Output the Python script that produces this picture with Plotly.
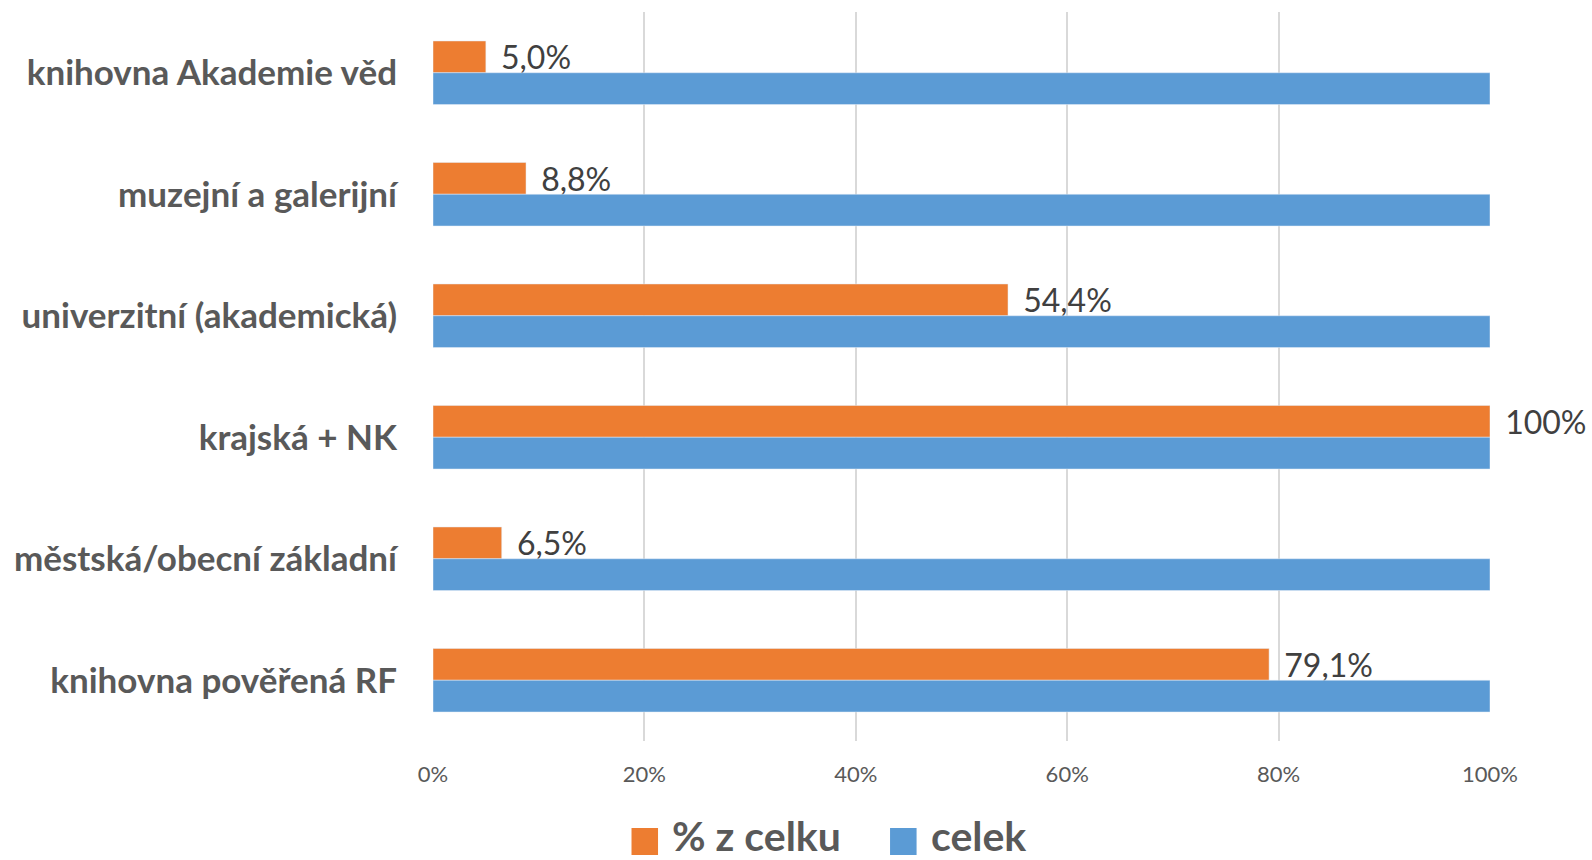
import plotly.graph_objects as go

# Typy knihoven (shora dolů)
kategorie = [
    "knihovna Akademie věd",
    "muzejní a galerijní",
    "univerzitní (akademická)",
    "krajská + NK",
    "městská/obecní základní",
    "knihovna pověřená RF",
]
podil = [5.0, 8.8, 54.4, 100.0, 6.5, 79.1]
celek = [100, 100, 100, 100, 100, 100]
popisky = ["5,0%", "8,8%", "54,4%", "100%", "6,5%", "79,1%"]

tick_hodnoty = [0, 20, 40, 60, 80, 100]
tick_texty = ["0%", "20%", "40%", "60%", "80%", "100%"]

ORANZOVA = "#ED7D31"
MODRA = "#5B9BD5"
SEDA = "#595959"

fig = go.Figure()
fig.add_trace(go.Bar(
    y=kategorie, x=podil, name="% z celku", orientation="h",
    marker=dict(color=ORANZOVA),
    text=["\u00a0\u2009" + t for t in popisky], textposition="outside",
    cliponaxis=False, constraintext="none",
    textfont=dict(size=32, color="#404040", family="Lato"),
))
fig.add_trace(go.Bar(
    y=kategorie, x=celek, name="celek", orientation="h",
    marker=dict(color=MODRA),
))

# legenda dole (velké čtverečky jako v Excelu)
legenda = [("% z celku", ORANZOVA, 0.1878, 0.2242), ("celek", MODRA, 0.4324, 0.4693)]
for nazev, barva, x0, xt in legenda:
    fig.add_shape(type="rect", xref="paper", yref="paper",
                  x0=x0, x1=x0 + 0.0251, y0=-0.1564, y1=-0.1193,
                  fillcolor=barva, line=dict(width=0))
    fig.add_annotation(xref="paper", yref="paper", x=xt, y=-0.1290,
                       xanchor="left", yanchor="middle", showarrow=False,
                       text="<b>" + nazev + "</b>",
                       font=dict(size=41, color=SEDA, family="Lato"))

fig.update_layout(
    width=1592, height=860,
    barmode="group", bargap=0.477, bargroupgap=0,
    plot_bgcolor="white", paper_bgcolor="white",
    margin=dict(l=433, r=102, t=12, b=119, autoexpand=False),
    font=dict(family="Lato", color=SEDA),
    showlegend=False,
)
fig.update_xaxes(
    range=[0, 100], tickvals=tick_hodnoty, ticktext=tick_texty,
    showgrid=True, gridcolor="#D9D9D9", gridwidth=2,
    zeroline=False, showline=False, ticks="",
    tickfont=dict(size=22, color=SEDA), ticklabelstandoff=18,
)
fig.update_yaxes(
    autorange="reversed", showgrid=False, showline=False, ticks="",
    tickfont=dict(size=35, color=SEDA, family="Lato", weight="bold"),
    ticklabelstandoff=35,
)

# bez okraje stránky, aby se graf vešel do okna bez posuvníků
fig.write_html("out.html", config={"displayModeBar": False},
               post_script="document.body.style.margin='0';")
